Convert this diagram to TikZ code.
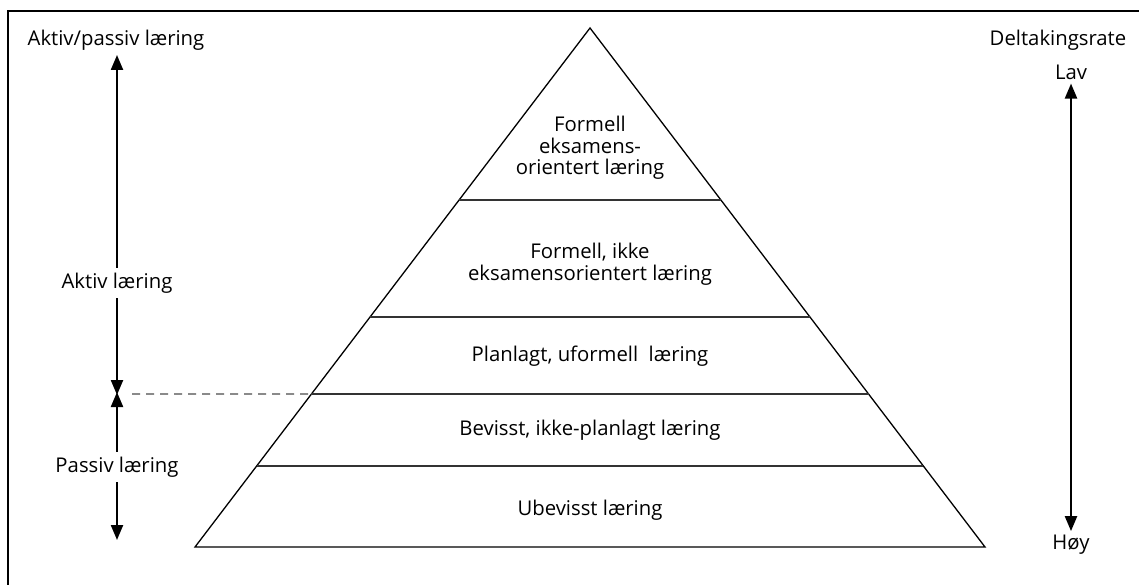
\documentclass[tikz,border=0pt]{standalone}
\usepackage{fontspec}
\setmainfont{Open Sans}
\usetikzlibrary{arrows.meta,calc,positioning}

\begin{document}
\begin{tikzpicture}[x=1pt,y=-1pt,
		tekst/.style={font=\fontsize{20.3}{21.5}\selectfont, align=center, inner sep=0pt},
		etikett/.style={tekst, fill=white, inner xsep=2pt, inner ysep=5pt},
		pil/.style={line width=2.2pt, -{Triangle[length=15pt,width=12pt]}},
		niva/.style={line width=1.5pt, black!80},
		pyramide/.style={line width=1.3pt, line join=miter}]
		
		\useasboundingbox (0,0) rectangle (1139,585);
		
		% ramme
		\draw[line width=2.6pt] (8,590) -- (8,11) -- (1145,11);
		
		% pyramiden
		\coordinate (topp) at (590,28);
		\coordinate (vb) at (195,547);
		\coordinate (hb) at (985,547);
		
		\draw[pyramide] (topp) -- (vb) -- (hb) -- cycle;
		
		\draw[niva] ($(topp)!0.3314!(vb)$) -- ($(topp)!0.3314!(hb)$);
		\draw[niva] ($(topp)!0.5568!(vb)$) -- ($(topp)!0.5568!(hb)$);
		\draw[niva] ($(topp)!0.7052!(vb)$) coordinate (g2) -- ($(topp)!0.7052!(hb)$);
		\draw[niva] ($(topp)!0.8439!(vb)$) -- ($(topp)!0.8439!(hb)$);
		
		\node[tekst] (n1) at (590,148) {Formell\\eksamens-\\orientert læring};
		
		\node[tekst] (n2) at (590,264) {Formell, ikke\\eksamensorientert læring};
		
		\node[tekst] (n3) at (590,356) {Planlagt, uformell\ \ læring};
		
		\node[tekst] (n4) at (590,430) {Bevisst, ikke-planlagt læring};
		
		\node[tekst] (n5) at (590,510) {Ubevisst læring};
		
		% venstre akse
		\node[tekst] (akse) at (116,40) {Aktiv/passiv læring};
		
		\node[etikett] (aktiv) at (117,283) {Aktiv læring};
		
		\node[etikett] (passiv) at (117,467) {Passiv læring};
		
		\coordinate (aktivtopp) at (117,55);
		\coordinate (grense) at (117,394);
		\coordinate (passivbunn) at (117,540);
		
		\draw[pil] (aktiv) -- (aktivtopp);
		\draw[pil] (aktiv) -- ([yshift=-1pt]grense);
		\draw[pil] (passiv) -- ([yshift=2pt]grense);
		\draw[pil] (passiv) -- (passivbunn);
		
		\draw[dashed, dash pattern=on 8pt off 6pt, line width=1.2pt, black!70] (132,394) -- (g2);
		
		% hoyre akse
		\node[tekst] (rate) at (1058,40) {Deltakingsrate};
		
		\node[tekst, inner ysep=4pt] (lav) at (1071,72) {Lav};
		
		\node[tekst, inner ysep=4pt] (hoy) at (1071,545) {Høy};
		
		\draw[pil, {Triangle[length=15pt,width=12pt]}-{Triangle[length=15pt,width=12pt]}] (lav) -- (hoy);
		
	\end{tikzpicture}
\end{document}
